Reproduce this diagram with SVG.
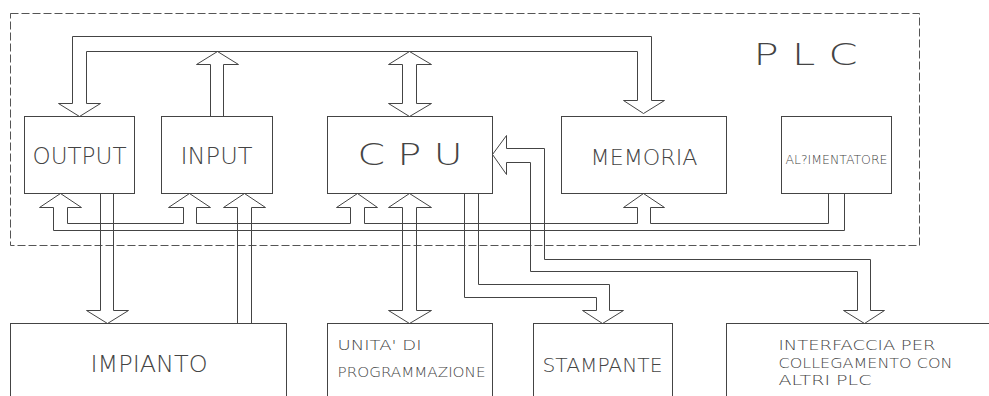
<svg xmlns="http://www.w3.org/2000/svg" width="989" height="396" viewBox="0 0 989 396">
<style>
.box{fill:none;stroke:#444;stroke-width:1}
.ln{fill:none;stroke:#444;stroke-width:1;stroke-linejoin:miter}
.dash{fill:none;stroke:#555;stroke-width:1;stroke-dasharray:8 3}
.t{font-family:"DejaVu Sans","Liberation Sans",sans-serif;font-weight:200;fill:#444}
</style>
<rect width="989" height="396" fill="#fff"/>
<g transform="translate(0.5,0.5)">
<rect id="plc-frame" class="dash" x="10" y="13" width="909" height="232"/>
<text class="t" x="753" y="64" font-size="30" textLength="104" lengthAdjust="spacingAndGlyphs">P L C</text>

<g id="output"><rect class="box" x="24" y="116" width="110" height="77"/><text class="t" x="32" y="163" font-size="22.5" textLength="94" lengthAdjust="spacingAndGlyphs">OUTPUT</text></g>
<g id="input"><rect class="box" x="161" y="116" width="111" height="77"/><text class="t" x="180" y="163" font-size="22.5" textLength="72" lengthAdjust="spacingAndGlyphs">INPUT</text></g>
<g id="cpu"><rect class="box" x="327" y="116" width="165" height="77"/><text class="t" x="357" y="164" font-size="30.5" textLength="105" lengthAdjust="spacingAndGlyphs">C P U</text></g>
<g id="memoria"><rect class="box" x="561" y="116" width="165" height="77"/><text class="t" x="590" y="164" font-size="21.5" textLength="107" lengthAdjust="spacingAndGlyphs">MEMORIA</text></g>
<g id="alimentatore"><rect class="box" x="781" y="116" width="110" height="77"/><text class="t" x="785" y="163" font-size="13" textLength="102" lengthAdjust="spacingAndGlyphs">AL?IMENTATORE</text></g>
<g id="impianto"><rect class="box" x="10" y="323" width="276" height="90"/><text class="t" x="90" y="371" font-size="22.5" textLength="117" lengthAdjust="spacingAndGlyphs">IMPIANTO</text></g>
<g id="unita"><rect class="box" x="327" y="323" width="165" height="90"/><text class="t" x="337" y="349" font-size="14" textLength="84" lengthAdjust="spacingAndGlyphs">UNITA' DI</text><text class="t" x="337" y="376" font-size="14" textLength="148" lengthAdjust="spacingAndGlyphs">PROGRAMMAZIONE</text></g>
<g id="stampante"><rect class="box" x="533" y="323" width="139" height="90"/><text class="t" x="542" y="371" font-size="19" textLength="120" lengthAdjust="spacingAndGlyphs">STAMPANTE</text></g>
<g id="interfaccia"><rect class="box" x="726" y="323" width="300" height="90"/><text class="t" x="778" y="349" font-size="14" textLength="157" lengthAdjust="spacingAndGlyphs">INTERFACCIA PER</text><text class="t" x="778" y="367" font-size="14" textLength="174" lengthAdjust="spacingAndGlyphs">COLLEGAMENTO CON</text><text class="t" x="778" y="384" font-size="14" textLength="93" lengthAdjust="spacingAndGlyphs">ALTRI PLC</text></g>

<g id="connectors">
<path class="ln" d="M58,103 L79,116 L100,103 L86,103 L86,51 L637,51 L637,100 L623,100 L643,113 L664,100 L651,100 L651,36 L72,36 L72,103 Z"/>
<path class="ln" d="M210,116 L210,64 L196,64 L217,51 L238,64 L223,64 L223,116"/>
<path class="ln" d="M402,64 L388,64 L409,51 L431,64 L416,64 L416,103 L431,103 L409,116 L388,103 L402,103 Z"/>
<path class="ln" d="M506,135 L492,154 L506,174 L506,162 L530,162 L530,271 L857,271 L857,310 L843,310 L864,323 L884,310 L870,310 L870,259 L544,259 L544,148 L506,148 Z"/>
<path class="ln" d="M828,193 L828,223 L650,223 L650,207 L664,207 L643,193 L623,207 L637,207 L637,223 L364,223 L364,207 L377,207 L357,193 L336,207 L350,207 L350,223 L196,223 L196,207 L210,207 L189,193 L168,207 L183,207 L183,223 L67,223 L67,207 L81,207 L60,193 L39,207 L53,207 L53,230 L844,230 L844,193"/>
<path class="ln" d="M237,323 L237,207 L223,207 L244,193 L265,207 L251,207 L251,323"/>
<path class="ln" d="M100,193 L100,310 L86,310 L107,323 L128,310 L113,310 L113,193"/>
<path class="ln" d="M402,207 L388,207 L409,193 L431,207 L416,207 L416,310 L431,310 L409,323 L388,310 L402,310 Z"/>
<path class="ln" d="M464,193 L464,297 L596,297 L596,310 L582,310 L602,323 L623,310 L609,310 L609,284 L478,284 L478,193"/>
</g>
</g>
</svg>
